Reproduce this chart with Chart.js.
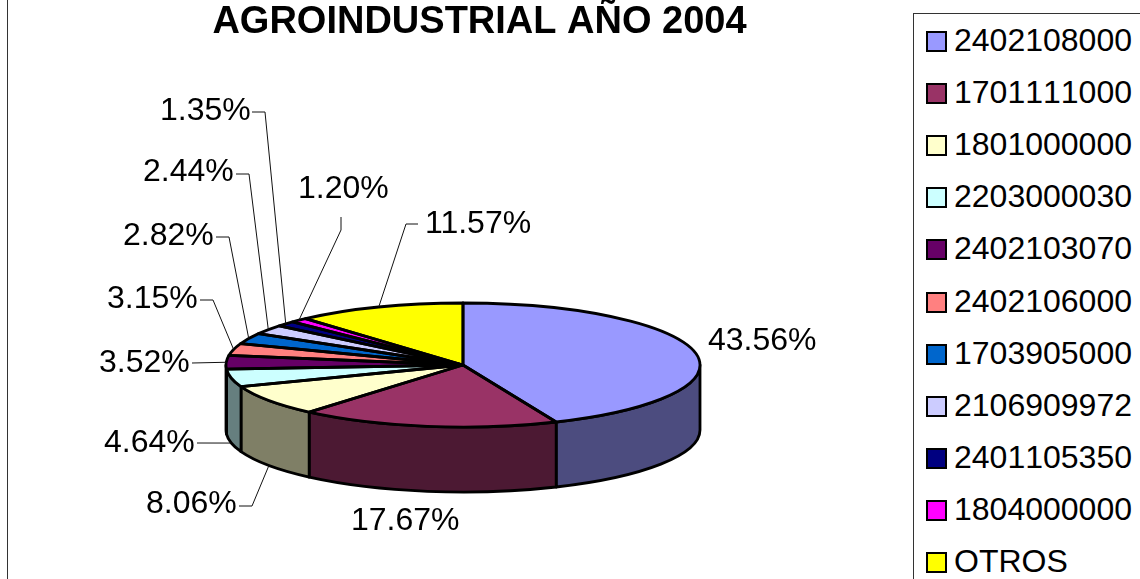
<!DOCTYPE html>
<html lang="es">
<head>
<meta charset="utf-8">
<title>AGROINDUSTRIAL AÑO 2004</title>
<script src="https://cdn.jsdelivr.net/npm/chart.js@4/dist/chart.umd.min.js"></script>
<style>
    html, body { margin: 0; padding: 0; background: #fff; overflow: hidden; width: 1140px; height: 579px; }
    #wrap { position: relative; width: 1140px; height: 579px; overflow: hidden; font-family: "Liberation Sans", Arial, sans-serif; }
    #chart-frame { position: absolute; left: 7px; top: -20px; width: 1300px; height: 800px; border: 1px solid #333; box-sizing: border-box; }
    canvas { position: absolute; left: 0; top: 0; }
    #legend { position: absolute; left: 913px; top: 13px; width: 400px; height: 800px; border: 1px solid #333; box-sizing: border-box; background: #fff; }
    .row { position: absolute; left: 0; height: 36px; line-height: 36px; font-size: 32px; color: #000; white-space: nowrap; font-kerning: none; }
    .row i { position: absolute; left: 12px; top: 8px; width: 17px; height: 17px; border: 2px solid #000; box-sizing: content-box; }
    .row span { position: absolute; left: 40px; top: -1px; }
</style>
</head>
<body>
<div id="wrap">
    <div id="chart-frame"></div>
    <canvas id="chart-agro" width="1140" height="579"></canvas>
    <div id="legend"></div>
</div>
<script>
// =========================================================================
// 1. DATA
// =========================================================================
var chartTitle = 'AGROINDUSTRIAL AÑO 2004';
var categories = ['2402108000', '1701111000', '1801000000', '2203000030', '2402103070', '2402106000',
                  '1703905000', '2106909972', '2401105350', '1804000000', 'OTROS'];
var shares = [43.56, 17.67, 8.06, 4.64, 3.52, 3.15, 2.82, 2.44, 1.35, 1.20, 11.57];
var sliceColors = ['#9999ff', '#993366', '#ffffcc', '#ccffff', '#660066', '#ff8080',
                   '#0066cc', '#ccccff', '#000080', '#ff00ff', '#ffff00'];

// =========================================================================
// 2. LAYOUT (3D look, callout placement)
// =========================================================================
var pieRadius = 237;
var pieCenterY = 365;
var pieSemiMinor = 62;
var pieDepth = 65;
var outlineWidth = 2.8;
var labelFont = '32px "Liberation Sans", Arial, sans-serif';
var titleFont = 'bold 38px "Liberation Sans", Arial, sans-serif';

// x/y = start of the text, elbow = where the leader line leaves it
var callouts = [
    { x: 708, y: 341.5 },
    { x: 351, y: 521.5 },
    { x: 146, y: 504.5, line: [[239, 506], [252, 506]] },
    { x: 104, y: 443.5, line: [[197, 443]] },
    { x: 99,  y: 363.5, line: [[192, 363]] },
    { x: 107, y: 299.5, line: [[200, 300], [213, 300]] },
    { x: 123, y: 236.5, line: [[216, 237], [229, 237]] },
    { x: 143, y: 172.5, line: [[236, 174], [249, 174]] },
    { x: 160, y: 111.5, line: [[252, 112], [265, 112]] },
    { x: 298, y: 189.5, line: [[341, 217], [341, 230]] },
    { x: 425, y: 224.5, line: [[418, 224], [406, 224]] }
];

function darken(hex) {
    var n = parseInt(hex.slice(1), 16);
    var r = (n >> 16) >> 1, g = ((n >> 8) & 255) >> 1, b = (n & 255) >> 1;
    return 'rgb(' + r + ',' + g + ',' + b + ')';
}

// =========================================================================
// 3. PLUGIN: squashes the library's arcs and adds the pie's wall
// =========================================================================
var pie3d = {
    id: 'pie3d',
    beforeDatasetDraw: function(chart, args) {
        var ctx = chart.ctx;
        args.meta.data.forEach(function(arc, i) {
            var a0 = Math.max(arc.startAngle, 0);
            var a1 = Math.min(arc.endAngle, Math.PI);
            if (a1 <= a0) return;
            ctx.beginPath();
            ctx.ellipse(arc.x, pieCenterY, arc.outerRadius, pieSemiMinor, 0, a0, a1);
            ctx.ellipse(arc.x, pieCenterY + pieDepth, arc.outerRadius, pieSemiMinor, 0, a1, a0, true);
            ctx.closePath();
            ctx.fillStyle = darken(sliceColors[i]);
            ctx.fill();
            ctx.lineWidth = outlineWidth;
            ctx.lineJoin = 'round';
            ctx.strokeStyle = '#000';
            ctx.stroke();
        });
        var first = args.meta.data[0];
        ctx.save();
        ctx.translate(0, pieCenterY);
        ctx.scale(1, pieSemiMinor / first.outerRadius);
        ctx.translate(0, -first.y);
    },
    afterDatasetDraw: function(chart, args) {
        var ctx = chart.ctx;
        ctx.restore();
        // outline afterwards so the stroke stays even on the flattened pie
        args.meta.data.forEach(function(arc) {
            ctx.beginPath();
            ctx.moveTo(arc.x, pieCenterY);
            ctx.ellipse(arc.x, pieCenterY, arc.outerRadius, pieSemiMinor, 0, arc.startAngle, arc.endAngle);
            ctx.closePath();
            ctx.lineWidth = outlineWidth;
            ctx.lineJoin = 'round';
            ctx.strokeStyle = '#000';
            ctx.stroke();
        });
    },
    afterDraw: function(chart) {
        var ctx = chart.ctx;
        var arcs = chart.getDatasetMeta(0).data;

        ctx.save();
        ctx.fillStyle = '#000';
        ctx.font = titleFont;
        ctx.textAlign = 'center';
        ctx.textBaseline = 'alphabetic';
        ctx.fillText(chartTitle, 479.5, 33);

        ctx.font = labelFont;
        ctx.textAlign = 'left';
        ctx.textBaseline = 'middle';
        callouts.forEach(function(c, i) {
            ctx.fillText(shares[i].toFixed(2) + '%', c.x, c.y);
            if (!c.line) return;
            // the leader ends on the rim, at the middle of its slice
            var arc = arcs[i];
            var mid = (arc.startAngle + arc.endAngle) / 2;
            var rimX = arc.x + arc.outerRadius * Math.cos(mid);
            var rimY = pieCenterY + pieSemiMinor * Math.sin(mid);
            if (Math.sin(mid) > 0) rimY += pieDepth;
            ctx.beginPath();
            ctx.moveTo(c.line[0][0], c.line[0][1]);
            c.line.slice(1).forEach(function(p) { ctx.lineTo(p[0], p[1]); });
            ctx.lineTo(rimX, rimY);
            ctx.lineWidth = 1;
            ctx.strokeStyle = '#111';
            ctx.stroke();
        });
        ctx.restore();
    }
};

// =========================================================================
// 4. CHART AND LEGEND
// =========================================================================
function buildLegend() {
    var legend = document.getElementById('legend');
    categories.forEach(function(name, i) {
        var row = document.createElement('div');
        row.className = 'row';
        row.style.top = (9 + i * 52.1) + 'px';
        var box = document.createElement('i');
        box.style.background = sliceColors[i];
        var text = document.createElement('span');
        text.textContent = name;
        row.appendChild(box);
        row.appendChild(text);
        legend.appendChild(row);
    });
}

buildLegend();

new Chart(document.getElementById('chart-agro').getContext('2d'), {
    type: 'pie',
    data: {
        labels: categories,
        datasets: [{
            data: shares,
            backgroundColor: sliceColors,
            borderWidth: 0,
            radius: pieRadius,
            clip: false
        }]
    },
    options: {
        responsive: false,
        animation: false,
        layout: { padding: { right: 214 } },
        plugins: {
            legend: { display: false },
            tooltip: { enabled: false }
        }
    },
    plugins: [pie3d]
});
</script>
</body>
</html>
